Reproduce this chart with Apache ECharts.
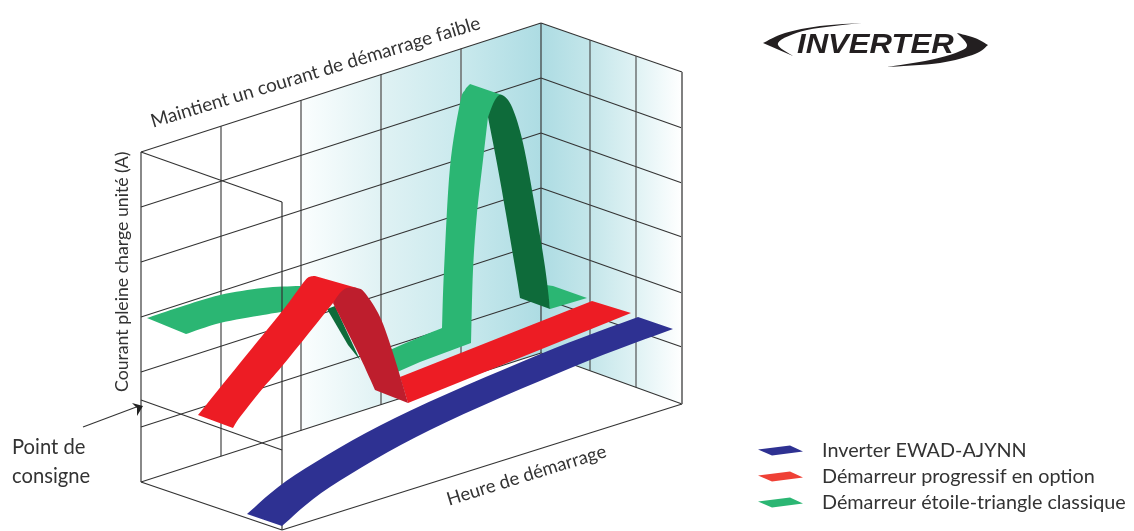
<!DOCTYPE html>
<html><head><meta charset="utf-8">
<style>html,body{margin:0;padding:0;background:#fff}#c{width:1134px;height:531px}</style>
<script src="https://cdn.jsdelivr.net/npm/echarts@6/dist/echarts.min.js"></script>
</head><body><div id="c"></div>
<script>
// Names and labels
const seriesNames = ['Inverter EWAD-AJYNN','Démarreur progressif en option','Démarreur étoile-triangle classique'];
const axisTitleTop = 'Maintient un courant de démarrage faible';
const axisTitleY = 'Courant pleine charge unité (A)';
const axisTitleX = 'Heure de démarrage';
const setPoint = 'Point de\nconsigne';

// Box outline, read in the picture's drawing units
const backWallXs = [141,221,301,381,461,541];
const sideWallXs = [541,590,636,682];
const backLeftYs = [152,207,262,317,372,427,482];
const backCornerYs = [23,78,133,188,243,298,353];
const sideRightYs = [72,128,183,237,293,347,404];
const frontLines = [[[141,152],[282,202]],[[282,202],[282,530]],[[141,400],[282,450]],[[141,482],[282,530]],[[282,530],[682,404]]];
const backShade = [[[301,100.4]],[[541,23]],[[541,353]],[[301,430.4]]];
const sideShade = [[[541,23]],[[682,72]],[[682,404]],[[541,353]]];

// Ribbons: each polygon is a list of edge curves
const greenLeft = [[[147,318],[180,307],[220,295],[263,288],[300,286],[325,286]],[[327,309],[283,312],[263,315],[220,323],[186,334]]];
const greenUnder = [[[327,309]],[[335,306]],[[360,360]],[[348,345]]];
const greenMain = [[[385,352],[420,337],[442,328]],[[442,328],[444,270],[450,167],[460,103],[465,90],[470,84]],[[502,95]],[[488,117],[483,160],[477,213],[473,270],[471,343]],[[420,362],[395,373]]];
const greenTail = [[[546,285]],[[553,286]],[[587,298]],[[550,309]]];
const greenDark = [[[488,117],[495,100],[502,95],[512,107],[523,143],[535,207],[545,267],[550,309]],[[520,298],[515,267],[500,180],[488,117]]];
const redRise = [[[198,415],[240,363],[283,310],[303,283],[309,277],[315,276]],[[357,288]],[[333,303],[283,365],[263,388],[240,417],[233,428]]];
const redDark = [[[333,303],[340,293],[347,288],[357,288],[365,293],[380,317],[393,353],[408,403]],[[375,390],[360,357],[343,323],[333,303]]];
const redLow = [[[400,377]],[[592,301]],[[631,313]],[[408,403]]];
const blueBand = [[[247,514],[295,475],[395,418],[538,355],[638,317]],[[673,329],[573,367],[430,430],[330,487],[282,526]]];

// Logo and arrow shapes
const logoLeft = [[[862,23],[820,26],[785,33],[763,43]],[[793,56],[778,43],[807,30],[862,23]]];
const logoRight = [[[957,33],[975,38],[988,45]],[[988,45],[975,54],[940,63],[887,67]],[[887,67],[930,60],[958,52],[967,45],[957,33]]];
const arrowHead = [[[143,406]],[[132,403]],[[137,408]],[[137,416]]];

const palette = {blue:'#2E3192',red:'#ED1C24',redDark:'#BE1E2D',green:'#2BB673',greenDark:'#0E6B3A',ink:'#333333',logo:'#231F20'};

function spline(p){
  if(p.length<3) return p.slice();
  const out=[];
  for(let i=0;i<p.length-1;i++){
    const a=p[Math.max(i-1,0)],b=p[i],c=p[i+1],d=p[Math.min(i+2,p.length-1)];
    for(let k=0;k<8;k++){
      const t=k/8,t2=t*t,t3=t2*t;
      out.push([0,1].map(j=>0.5*(2*b[j]+(c[j]-a[j])*t+(2*a[j]-5*b[j]+4*c[j]-d[j])*t2+(3*b[j]-a[j]-3*c[j]+d[j])*t3)));
    }
  }
  out.push(p[p.length-1]);
  return out;
}
function outline(curves){ return curves.flatMap(spline); }

function polygonSeries(name,parts,z){
  return {type:'custom',name,coordinateSystem:'cartesian2d',z,clip:false,silent:true,
    itemStyle:{color:parts[0].color},
    data:parts.map((_,i)=>[i,0]),encode:{x:0,y:1},
    renderItem(params,api){
      const part=parts[api.value(0)];
      return {type:'polygon',shape:{points:outline(part.curves).map(q=>api.coord(q))},style:{fill:part.color,stroke:null}};
    }};
}
function lineSeries(name,segs,z){
  return {type:'custom',name,coordinateSystem:'cartesian2d',z,clip:false,silent:true,
    data:segs.map((_,i)=>[i,0]),encode:{x:0,y:1},
    renderItem(params,api){
      const s=segs[api.value(0)];
      return {type:'polyline',shape:{points:s.pts.map(q=>api.coord(q))},style:{fill:null,stroke:s.color,lineWidth:s.w}};
    }};
}

const gridLines=[];
const wallY=(x,k)=>backLeftYs[k]+(backCornerYs[k]-backLeftYs[k])*(x-141)/400;
backWallXs.forEach((x,i)=>gridLines.push({pts:[[x,wallY(x,0)],[x,wallY(x,6)]],color:(i===0||i===5)?'#3a3a3a':'#6a6a6a',w:(i===0||i===5)?1.2:1.5}));
backLeftYs.forEach((y,k)=>gridLines.push({pts:[[141,y],[541,backCornerYs[k]]],color:'#333',w:1.1}));
backCornerYs.forEach((y,k)=>gridLines.push({pts:[[541,y],[682,sideRightYs[k]]],color:'#333',w:1.1}));
sideWallXs.slice(1,3).forEach(x=>{const f=(x-541)/141;gridLines.push({pts:[[x,23+49*f],[x,353+51*f]],color:'#444',w:1.1});});
gridLines.push({pts:[[682,72],[682,404]],color:'#808080',w:2});

const shadeBack=new echarts.graphic.LinearGradient(0,0,1,0,[{offset:0,color:'#FBFEFE'},{offset:0.33,color:'#E0F2F4'},{offset:0.67,color:'#C9E9ED'},{offset:1,color:'#ADDCE3'}]);
const shadeSide=new echarts.graphic.LinearGradient(0,0,1,0,[{offset:0,color:'#ADDCE3'},{offset:0.35,color:'#C4E6EA'},{offset:0.67,color:'#DFF2F4'},{offset:1,color:'#FFFFFF'}]);

const chart=echarts.init(document.getElementById('c'),null,{renderer:'canvas'});
const swatch=(c)=>({icon:'path://M0,4 L32,0 L45,6 L14,10 Z',itemStyle:{color:c}});
const font='Lato';
chart.setOption({
  animation:false,backgroundColor:'#fff',
  grid:{left:0,right:0,top:0,bottom:0,containLabel:false},
  xAxis:{type:'value',min:0,max:1134,show:false},
  yAxis:{type:'value',min:0,max:531,inverse:true,show:false},
  legend:{left:753,top:435,orient:'vertical',itemWidth:45,itemHeight:10,itemGap:5,selectedMode:false,
    textStyle:{fontFamily:font,fontSize:19.8,color:palette.ink,padding:[0,0,0,14],height:21,lineHeight:21},
    data:[
      {name:seriesNames[0],...swatch('#2E3192')},
      {name:seriesNames[1],...swatch('#EF4136')},
      {name:seriesNames[2],...swatch('#2BB673')}
    ]},
  series:[
    polygonSeries('shade',[{color:shadeBack,curves:backShade},{color:shadeSide,curves:sideShade}],1),
    lineSeries('grid',gridLines,2),
    polygonSeries(seriesNames[2],[
      {color:palette.green,curves:greenLeft},{color:palette.greenDark,curves:greenUnder},
      {color:palette.green,curves:greenMain},{color:palette.green,curves:greenTail},{color:palette.greenDark,curves:greenDark}],3),
    lineSeries('front',frontLines.map(pts=>({pts,color:'#333',w:1.2})),4),
    polygonSeries(seriesNames[1],[
      {color:palette.red,curves:redRise},{color:palette.red,curves:redLow},{color:palette.redDark,curves:redDark}],5),
    polygonSeries(seriesNames[0],[{color:palette.blue,curves:blueBand}],6),
    polygonSeries('logo',[{color:palette.logo,curves:logoLeft},{color:palette.logo,curves:logoRight}],7),
    lineSeries('arrow',[{pts:[[83,427],[139,406]],color:'#333',w:1.1}],7),
    polygonSeries('arrowhead',[{color:'#222',curves:arrowHead}],7)
  ],
  graphic:[
    {type:'text',x:154,y:131,rotation:16.8*Math.PI/180,z:10,style:{text:axisTitleTop,fontFamily:font,fontSize:18.9,fill:palette.ink,textVerticalAlign:'bottom'}},
    {type:'text',x:131,y:392,rotation:Math.PI/2,z:10,style:{text:axisTitleY,fontFamily:font,fontSize:17.7,fill:palette.ink,textVerticalAlign:'bottom'}},
    {type:'text',x:450,y:509,rotation:17.2*Math.PI/180,z:10,style:{text:axisTitleX,fontFamily:font,fontSize:18.5,fill:palette.ink,textVerticalAlign:'bottom'}},
    {type:'text',x:12,y:433,z:10,style:{text:setPoint,fontFamily:font,fontSize:20.2,lineHeight:29,fill:palette.ink}},
    {type:'text',x:797,y:31,scaleX:1.11,z:10,style:{text:'INVERTER',fontFamily:'"Liberation Sans"',fontStyle:'italic',fontWeight:'bold',fontSize:28,fill:palette.logo}}
  ]
});
</script></body></html>
